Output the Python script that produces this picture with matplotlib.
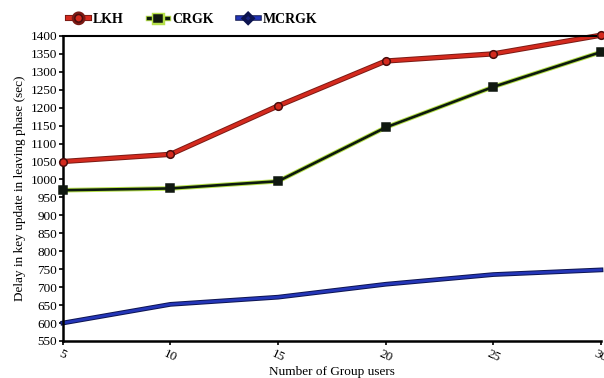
import numpy as np
import matplotlib.pyplot as plt
import matplotlib.patheffects as pe
from matplotlib.lines import Line2D

plt.rcParams.update({
    'font.family': ['Liberation Serif', 'DejaVu Serif'],
    'font.size': 9.5,
})

group_users = [5, 10, 15, 20, 25, 30]
lkh = [1050, 1070, 1205, 1330, 1350, 1402]
crgk = [970, 975, 995, 1145, 1258, 1355]
mcrgk = [600, 652, 672, 708, 735, 748]
y_ticks = list(range(550, 1401, 50))

fig = plt.figure(figsize=(6.04, 3.78), dpi=100)
ax = fig.add_axes([0.104, 0.098, 0.891, 0.807])

# lines (with outline) first, then markers on top without the outline
styles = [
    (lkh, 'LKH', '#d42a1e', '#7a1a14', 2.4, 'o', '#d42a1e', '#4a0c0c'),
    (crgk, 'CRGK', '#0d1a0d', '#b6e04a', 1.9, 's', '#101810', '#101810'),
    (mcrgk, 'MCRGK', '#2436b8', '#0d1450', 2.0, None, None, None),
]
handles = []
for ys, name, col, edge, lw, mk, mfc, mec in styles:
    ax.plot(group_users, ys, color=col, linewidth=lw, clip_on=False,
            path_effects=[pe.Stroke(linewidth=lw + 1.4, foreground=edge), pe.Normal()])
    if mk:
        ax.plot(group_users, ys, linestyle='none', marker=mk, markersize=5.5,
                markerfacecolor=mfc, markeredgecolor=mec, markeredgewidth=1.1,
                clip_on=False, zorder=3)
    h = Line2D([], [], color=col, linewidth=lw + 0.6, marker=mk if mk else 'D',
               markersize=5.5 if mk else 3.5, markerfacecolor=mfc if mfc else '#1a237e',
               markeredgecolor=mec if mec else '#0d1450', markeredgewidth=1.1,
               path_effects=[pe.Stroke(linewidth=lw + 2.0, foreground=edge), pe.Normal()])
    handles.append(h)

ax.set_xlim(5, 30)
ax.set_ylim(550, 1400)
ax.set_xticks(group_users)
ax.set_yticks(y_ticks)
ax.tick_params(axis='x', labelrotation=-25, length=3, width=1.2, pad=2)
ax.tick_params(axis='y', length=3, width=1.2, pad=1)
for lbl in ax.get_xticklabels():
    lbl.set_ha('center')

ax.spines['left'].set_linewidth(1.8)
ax.spines['bottom'].set_linewidth(1.8)
ax.spines['top'].set_linewidth(1.5)
ax.spines['right'].set_visible(False)

ax.set_xlabel('Number of Group users', labelpad=1)
ax.set_ylabel('Delay in key update in leaving phase (sec)', labelpad=3)

ax.legend(handles, [s[1] for s in styles], loc='lower left', bbox_to_anchor=(-0.008, 1.0),
          ncol=3, frameon=False, handlelength=1.5, handletextpad=0.3,
          columnspacing=1.7, borderaxespad=0.3, prop={'size': 10, 'weight': 'bold'})

fig.savefig('out.png', dpi=100)
